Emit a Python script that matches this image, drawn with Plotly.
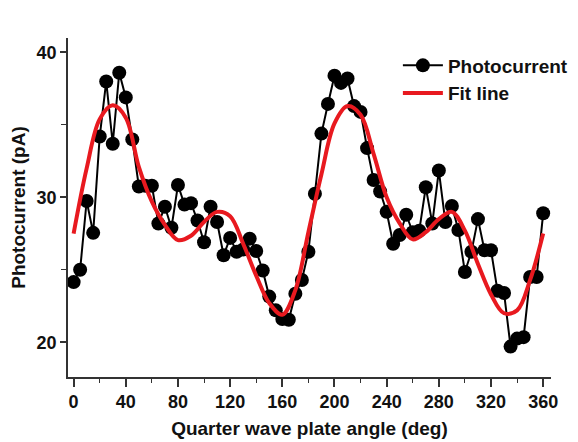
import plotly.graph_objects as go

# Measured photocurrent vs. quarter wave plate angle (5 deg steps)
angle_deg = list(range(0, 365, 5))
photocurrent_pA = [
    24.15, 25.0, 29.75, 27.55, 34.2, 38.0, 33.7, 38.6, 36.9, 34.0,
    30.75, 30.8, 30.8, 28.2, 29.35, 27.9, 30.85, 29.5, 29.6, 28.4,
    26.9, 29.35, 28.3, 26.0, 27.2, 26.25, 26.4, 27.15, 26.3, 24.95,
    23.15, 22.2, 21.6, 21.55, 23.35, 24.3, 26.25, 30.25, 34.4, 36.45,
    38.4, 37.9, 38.2, 36.3, 35.9, 33.4, 31.2, 30.4, 29.0, 26.8,
    27.4, 28.8, 27.6, 27.7, 30.7, 28.2, 31.85, 28.3, 29.4, 27.75,
    24.85, 26.25, 28.5, 26.35, 26.35, 23.55, 23.4, 19.7, 20.25, 20.35,
    24.5, 24.5, 28.9,
]

# Fitted curve sampled every 10 deg
fit_angle_deg = list(range(0, 370, 10))
fit_pA = [
    27.5, 32.0, 35.4, 36.35, 35.5, 32.1, 29.7, 28.1, 27.05, 27.35,
    28.3, 29.0, 28.7, 26.8, 24.6, 22.7, 21.9, 23.6, 27.6, 31.6,
    35.1, 36.3, 35.7, 33.0, 30.0, 28.2, 27.1, 27.6, 28.5, 29.0,
    27.7, 25.4, 23.3, 22.0, 22.2, 24.3, 27.5,
]

x_ticks = list(range(0, 361, 40))
y_ticks = [20, 30, 40]

FONT = "Liberation Sans, Arial, Helvetica, sans-serif"
AXIS_COLOR = "#333333"

fig = go.Figure()

fig.add_trace(go.Scatter(
    x=angle_deg, y=photocurrent_pA,
    mode="lines+markers",
    name="Photocurrent",
    line=dict(color="black", width=2),
    marker=dict(color="black", size=14, symbol="circle"),
))

fig.add_trace(go.Scatter(
    x=fit_angle_deg, y=fit_pA,
    mode="lines",
    name="Fit line",
    line=dict(color="#e8191f", width=4, shape="spline", smoothing=1.0),
))

fig.update_layout(
    width=578, height=442,
    margin=dict(l=68, r=27, t=38, b=65, autoexpand=False),
    paper_bgcolor="white",
    plot_bgcolor="white",
    font=dict(family=FONT, size=18, color="#111111", weight="bold"),
    showlegend=True,
    legend=dict(
        x=0.683, y=0.975, xanchor="left", yanchor="top",
        bgcolor="rgba(0,0,0,0)",
        font=dict(family=FONT, size=19, color="#111111", weight="bold"),
        itemwidth=40, tracegroupgap=0,
    ),
)

fig.update_xaxes(
    range=[-4.3, 366],
    tickvals=x_ticks,
    ticktext=[str(v) for v in x_ticks],
    showline=True, linecolor=AXIS_COLOR, linewidth=1.5,
    ticks="outside", ticklen=8, tickwidth=1.5, tickcolor=AXIS_COLOR,
    minor=dict(dtick=20, tick0=0, ticks="outside", ticklen=4,
               tickwidth=1.2, tickcolor=AXIS_COLOR, showgrid=False),
    showgrid=False, zeroline=False,
    tickfont=dict(family=FONT, size=18, weight="bold"),
    title=dict(text="Quarter wave plate angle (deg)",
               font=dict(family=FONT, size=19, weight="bold"), standoff=10),
)

fig.update_yaxes(
    range=[17.6, 41],
    tickvals=y_ticks,
    ticktext=[str(v) for v in y_ticks],
    showline=True, linecolor=AXIS_COLOR, linewidth=1.5,
    ticks="outside", ticklen=6, tickwidth=1.5, tickcolor=AXIS_COLOR,
    minor=dict(dtick=5, tick0=0, ticks="outside", ticklen=5,
               tickwidth=1.2, tickcolor=AXIS_COLOR, showgrid=False),
    showgrid=False, zeroline=False,
    tickfont=dict(family=FONT, size=18, weight="bold"),
    title=dict(text="Photocurrent (pA)",
               font=dict(family=FONT, size=19, weight="bold"), standoff=6),
)

fig.write_html("out.html")
